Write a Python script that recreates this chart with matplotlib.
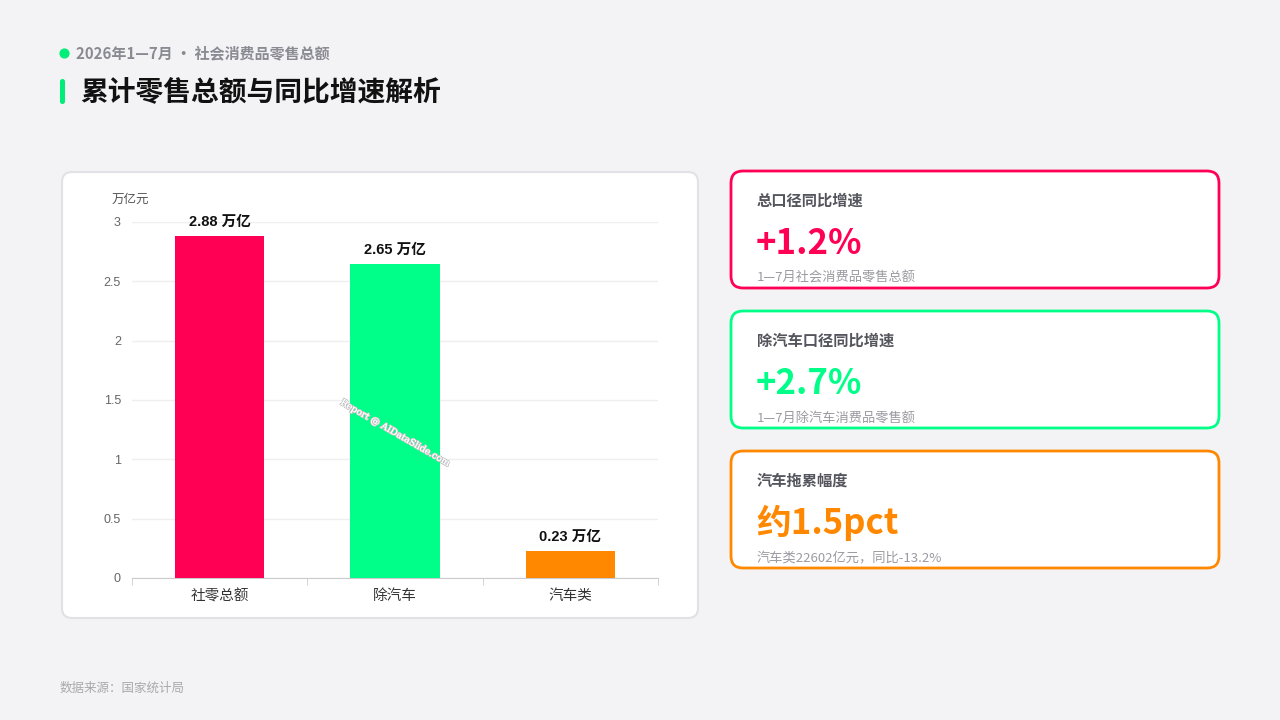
import numpy as np
import matplotlib.pyplot as plt
import matplotlib.patheffects as pe
from matplotlib.patches import FancyBboxPatch

plt.rcParams['font.family'] = ['Noto Sans CJK SC', 'DejaVu Sans']

# data
categories = ['社零总额', '除汽车', '汽车类']
values = [2.88, 2.65, 0.23]
value_labels = ['2.88 万亿', '2.65 万亿', '0.23 万亿']
bar_colors = ['#ff0055', '#00ff88', '#ff8800']
y_ticks = [0, 0.5, 1, 1.5, 2, 2.5, 3]
y_tick_labels = ['0', '0.5', '1', '1.5', '2', '2.5', '3']

card_titles = ['总口径同比增速', '除汽车口径同比增速', '汽车拖累幅度']
card_values = ['+1.2%', '+2.7%', '约1.5pct']
card_notes = ['1—7月社会消费品零售总额', '1—7月除汽车消费品零售额', '汽车类22602亿元，同比-13.2%']
card_colors = ['#ff0055', '#00ff88', '#ff8800']

bg = '#f3f3f5'
fig = plt.figure(figsize=(12.8, 7.2), dpi=100, facecolor=bg)

# full-figure canvas in pixel coordinates
canvas = fig.add_axes([0, 0, 1, 1])
canvas.set_xlim(0, 1280)
canvas.set_ylim(720, 0)
canvas.axis('off')
canvas.set_facecolor(bg)

# header
canvas.scatter([64], [53], s=40, color='#00ee77', zorder=3)
canvas.text(76, 53, '2026年1—7月 • 社会消费品零售总额', fontsize=10.8, fontweight='bold',
            color='#8a8a92', va='center', ha='left')
canvas.add_patch(FancyBboxPatch((60, 79), 5, 25, boxstyle='round,pad=0,rounding_size=2.5',
                                facecolor='#00ee77', edgecolor='none'))
canvas.text(80, 92, '累计零售总额与同比增速解析', fontsize=20, fontweight='bold',
            color='#111111', va='center', ha='left')

# chart card
canvas.add_patch(FancyBboxPatch((62, 172), 636, 446, boxstyle='round,pad=0,rounding_size=10',
                                facecolor='white', edgecolor='#e2e2e6', linewidth=1.5))
canvas.text(112, 199, '万亿元', fontsize=9, color='#555555', va='center', ha='left')

# right cards
for i in range(3):
    top = 171 + i * 140
    canvas.add_patch(FancyBboxPatch((731, top), 488, 117, boxstyle='round,pad=0,rounding_size=12',
                                    facecolor='white', edgecolor=card_colors[i], linewidth=2))
    canvas.text(757, top + 30, card_titles[i], fontsize=11, fontweight='bold',
                color='#55555d', va='center', ha='left')
    canvas.text(756, top + 72, card_values[i], fontsize=25, fontweight='bold',
                color=card_colors[i], va='center', ha='left')
    canvas.text(757, top + 107, card_notes[i], fontsize=9.5, color='#9a9aa2',
                va='center', ha='left')

# footer
canvas.text(60, 688, '数据来源：国家统计局', fontsize=9, color='#a8a8ae', va='center', ha='left')

# bar chart
ax = fig.add_axes([132 / 1280, 1 - 578 / 720, (658 - 132) / 1280, (578 - 222) / 720])
ax.set_facecolor('none')
x = np.arange(len(categories))
ax.bar(x, values, width=0.51, color=bar_colors, zorder=3)
for xi, v, lab in zip(x, values, value_labels):
    ax.text(xi, v + 0.06, lab, ha='center', va='bottom', fontsize=10.5, fontweight='bold',
            color='#111111', family=['Liberation Sans', 'Noto Sans CJK SC'])
ax.set_xlim(-0.5, 2.5)
ax.set_ylim(0, 3)
ax.set_yticks(y_ticks)
ax.set_yticklabels(y_tick_labels, fontsize=9, color='#666666', family=['Liberation Sans'])
ax.grid(axis='y', color='#efeff2', linewidth=1, zorder=0)
ax.set_xticks(x)
ax.set_xticklabels(categories, fontsize=10.5, color='#333333')
ax.tick_params(axis='x', length=0, pad=8)
ax.tick_params(axis='y', length=0, pad=8)
for s in ['top', 'right', 'left']:
    ax.spines[s].set_visible(False)
ax.spines['bottom'].set_color('#cccccf')
# category boundary ticks
ax.set_xticks([-0.5, 0.5, 1.5, 2.5], minor=True)
ax.tick_params(axis='x', which='minor', length=5, color='#cccccf')

# watermark
fig.text(395 / 1280, 1 - 433 / 720, 'Report @ AIDataSlide.com', rotation=-30, fontsize=6.6,
         color='white', ha='center', va='center', family=['DejaVu Serif'], zorder=10,
         path_effects=[pe.withStroke(linewidth=1.3, foreground='#c4c4c4'), pe.Normal()])

fig.savefig('out.png', dpi=100, facecolor=bg)
